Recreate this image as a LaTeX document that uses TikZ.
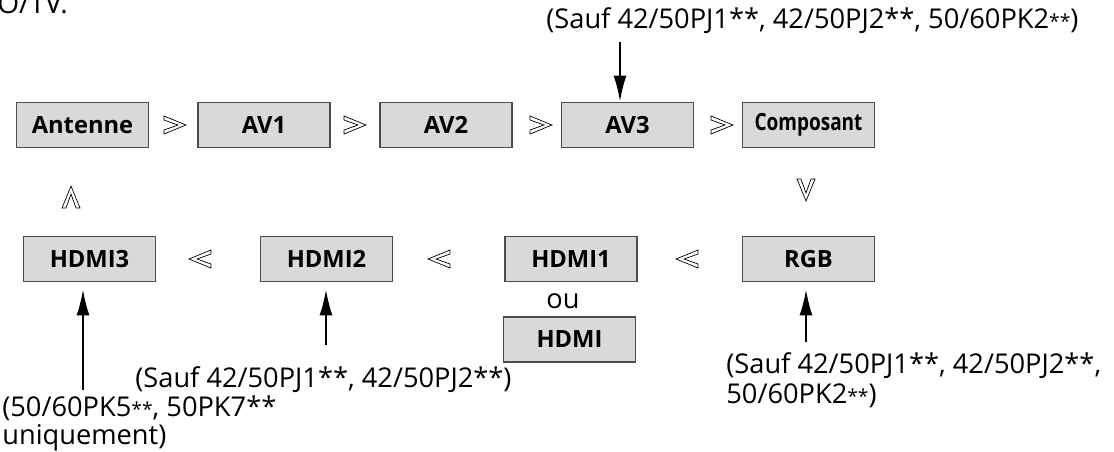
\documentclass[tikz,border=0pt]{standalone}
\usepackage{fontspec}
\setmainfont{Open Sans}
\usetikzlibrary{arrows.meta}

\newcommand{\sast}{{\fontsize{11}{12}\selectfont**}}

\begin{document}
\begin{tikzpicture}[x=0.02cm,y=-0.02cm,
  srcbox/.style={draw=black!70,fill=black!15,line width=1pt,minimum width=2.64cm,minimum height=0.9cm,inner sep=0pt,font=\fontsize{13.5}{15}\selectfont\bfseries},
  note/.style={align=left,inner sep=0pt,font=\fontsize{15.5}{16}\selectfont},
  arr/.style={-{Latex[length=0.52cm,width=0.26cm]},line width=1.1pt},
  chev/.pic={\draw[line width=0.4pt,fill=white] (-11,-9) -- (11,0) -- (-11,9) -- (-11,5) -- (3,0) -- (-11,-5) -- cycle;}]
\useasboundingbox (0,0) rectangle (1114,451);
% cut-off heading at the top
\node[anchor=base west,inner sep=0pt,font=\fontsize{16}{18}\selectfont] (head) at (-3,13) {O/TV.};
% first row
\node[srcbox] (ant) at (82.5,125) {Antenne};
\node[srcbox] (av1) at (264,125) {AV1};
\node[srcbox] (av2) at (446,125) {AV2};
\node[srcbox] (av3) at (627.5,125) {AV3};
\node[srcbox] (comp) at (808.5,125) {\scalebox{0.8}[1]{Composant}};
% second row
\node[srcbox] (hdmiiii) at (89.5,259) {HDMI3};
\node[srcbox] (hdmiii) at (326.5,259) {HDMI2};
\node[srcbox] (hdmii) at (571,259) {HDMI1};
\node[srcbox] (rgb) at (808.5,259) {RGB};
\node[note,anchor=base] (ou) at (563,308) {ou};
\node[srcbox] (hdmi) at (569.5,339.5) {HDMI};
% order of the inputs
\foreach \x in {175,355,541,722} \pic at (\x,125) {chev};
\foreach \x in {200,439,687} \pic[rotate=180] at (\x,259) {chev};
\pic[rotate=-90] at (806,190) {chev};
\pic[rotate=90] at (71,197) {chev};
% notes
\node[note,anchor=base west] (n3) at (546,28) {(Sauf 42/50PJ1**, 42/50PJ2**, 50/60PK2\sast)};
\node[note,anchor=base west] (nh2) at (135,387) {(Sauf 42/50PJ1**, 42/50PJ2**)};
\node[note,anchor=north west] (nrgb) at (726,352) {(Sauf 42/50PJ1**, 42/50PJ2**,\\[1pt]50/60PK2\sast)};
\node[note,anchor=north west] (nh3) at (2,395) {(50/60PK5\sast, 50PK7**\\uniquement)};
\coordinate (c3) at (620,42);
\coordinate (ch3) at (83,390);
\coordinate (ch2) at (326,345);
\coordinate (crgb) at (806,342);
\draw[arr] (c3) -- (c3 |- av3.north);
\draw[arr,shorten >=0.14cm] (ch3) -- (ch3 |- hdmiiii.south);
\draw[arr,shorten >=0.14cm] (ch2) -- (ch2 |- hdmiii.south);
\draw[arr,shorten >=0.14cm] (crgb) -- (crgb |- rgb.south);
\end{tikzpicture}
\end{document}
